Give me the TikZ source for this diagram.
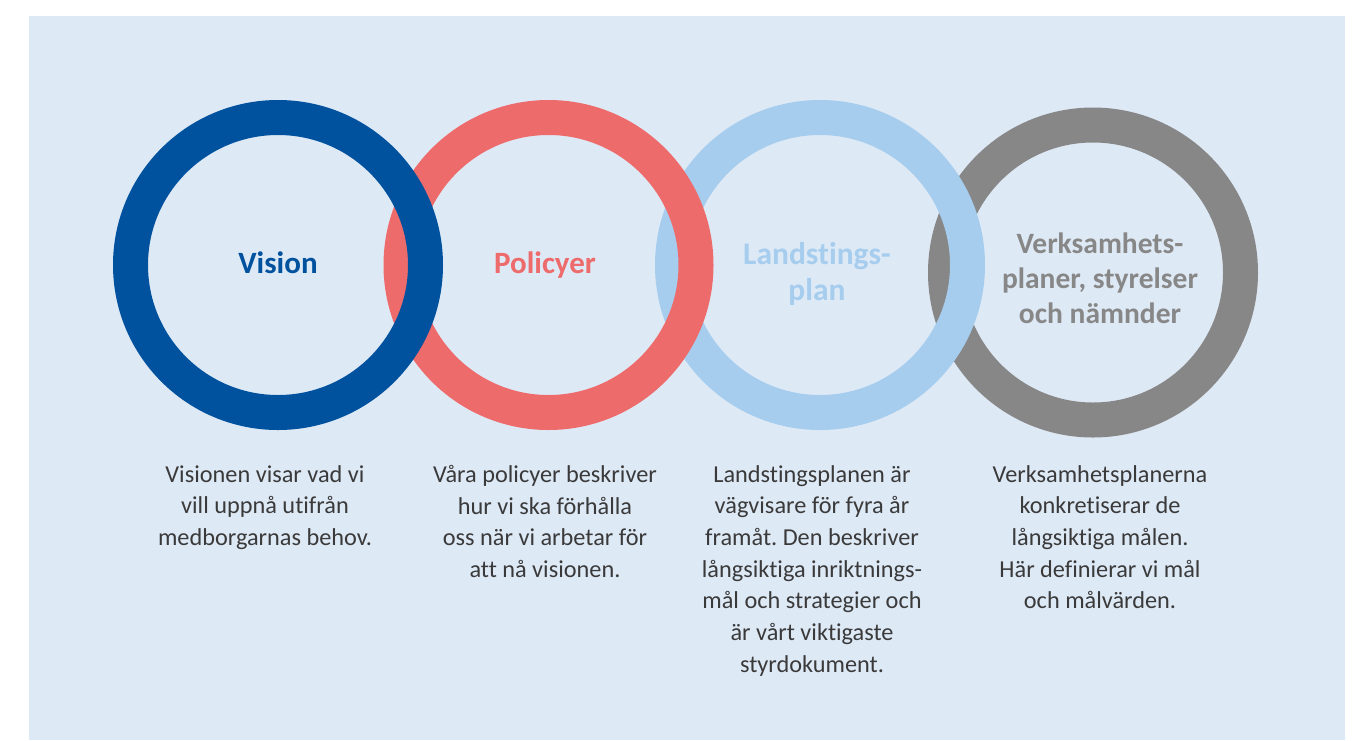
\documentclass[tikz,border=0pt]{standalone}
\usepackage{fontspec}
\setmainfont{Carlito}[Ligatures=NoCommon]
\frenchspacing
\definecolor{bgpanel}{HTML}{DEE9F6}
\definecolor{ringblue}{HTML}{00519E}
\definecolor{ringred}{HTML}{EE6B6B}
\definecolor{ringsky}{HTML}{A6CDEE}
\definecolor{ringgrey}{HTML}{878787}
\definecolor{bodytext}{HTML}{3A3A3A}
\begin{document}
\begin{tikzpicture}[x=1pt,y=-1pt,
  ring/.style={line width=35pt},
  title/.style={inner sep=0pt,align=center,font=\fontsize{31}{34}\selectfont\bfseries},
  body/.style={inner sep=0pt,anchor=north,align=center,text=bodytext,
    font=\fontsize{24.3}{31.7}\selectfont}]
  % page and panel
  \fill[white] (0,0) rectangle (1361,740);
  \useasboundingbox (0,0) rectangle (1361,740);
  \fill[bgpanel] (28.7,16) rectangle (1345,740);

  % rings, drawn right to left so each left ring lies on top
  \draw[ring,ringgrey] (1093,272.5) circle[radius=147.5];
  \draw[ring,ringsky]  (820,265) circle[radius=147.5];
  \draw[ring,ringred]  (548.5,265) circle[radius=147.5];
  \draw[ring,ringblue] (278,265) circle[radius=147.5];

  % ring titles
  \node[title,text=ringblue,anchor=base] (tvision) at (278,273) {Vision};
  \node[title,text=ringred,anchor=base] (tpolicy) at (545,273) {Policyer};
  \node[title,text=ringsky,font=\fontsize{31.5}{36}\selectfont\bfseries] (tland) at (817,274) {Landstings-\\plan};
  \node[title,text=ringgrey,font=\fontsize{29.5}{35}\selectfont\bfseries] (tverk) at (1100,278) {Verksamhets-\\planer, styrelser\\och nämnder};

  % descriptions
  \node[body] (bvision) at (265,465) {Visionen visar vad vi\\vill uppnå utifrån\\medborgarnas behov.};
  \node[body] (bpolicy) at (545,465) {Våra policyer beskriver\\hur vi ska förhålla\\oss när vi arbetar för\\att nå visionen.};
  \node[body] (bland) at (812,465) {Landstingsplanen är\\vägvisare för fyra år\\framåt. Den beskriver\\långsiktiga inriktnings-\\mål och strategier och\\är vårt viktigaste\\styrdokument.};
  \node[body] (bverk) at (1100,465) {Verksamhetsplanerna\\konkretiserar de\\långsiktiga målen.\\Här definierar vi mål\\och målvärden.};
\end{tikzpicture}
\end{document}
